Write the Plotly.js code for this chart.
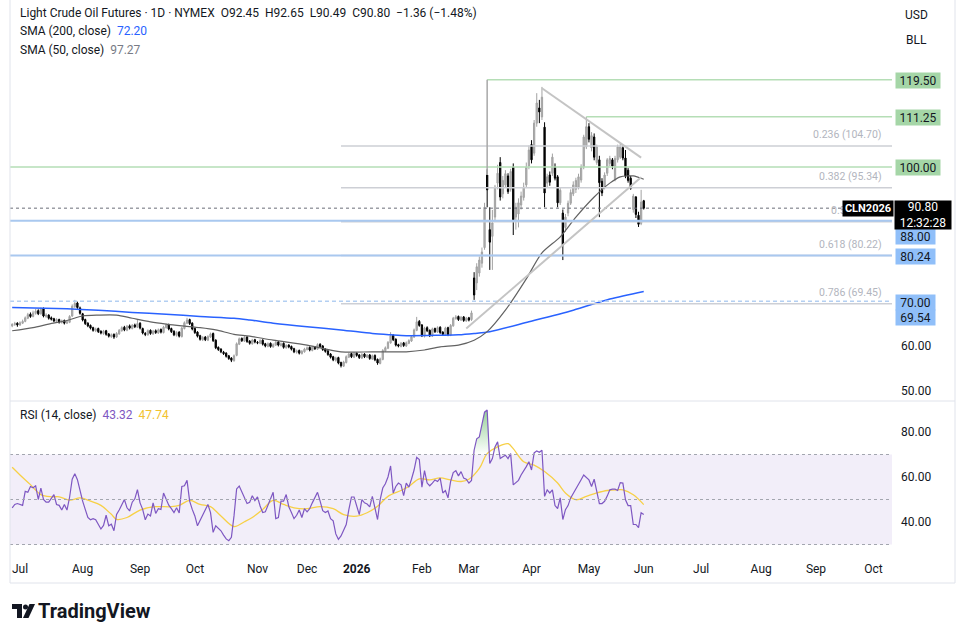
<!DOCTYPE html>
<html><head><meta charset="utf-8">
<script src="https://cdn.plot.ly/plotly-3.0.1.min.js"></script>
<style>html,body{margin:0;padding:0;background:#fff;}#chart{width:970px;height:642px;}</style>
</head><body><div id="chart"></div>
<script>
// ---------- DATA ----------
const startDate = '2025-06-26'; // first daily bar (trading days, weekends skipped)
const open = [
64.5,64.8,65.1,64.7,65.1,65.5,66.2,67.1,66.6,67.3,
67.9,67.2,68.4,66.6,66.9,66.3,66.1,65.5,65.9,65.3,
65.7,65.1,65.3,66.7,68.8,69.6,68.5,67.2,65.9,65.1,
64.6,64.1,63.4,63.9,63.3,62.8,63.4,62.7,62.1,62.6,
62.0,62.7,63.4,64.2,63.5,64.5,63.9,64.7,64.2,65.1,
63.9,62.8,62.5,63.5,62.7,63.4,62.9,63.7,63.0,64.1,
64.8,63.9,63.3,62.4,63.1,62.1,63.9,65.1,65.9,65.1,
63.9,63.1,62.3,61.4,62.0,61.3,62.0,62.8,61.3,59.7,
59.3,58.6,58.4,57.8,57.3,56.7,57.9,60.4,61.7,61.1,
62.0,61.1,60.5,61.4,60.8,60.6,61.3,60.5,59.9,60.6,
59.8,60.2,60.9,60.1,60.6,59.6,60.2,59.9,59.4,58.6,
59.0,58.3,58.7,59.2,59.7,59.0,59.8,59.3,60.4,60.0,
59.3,58.9,58.2,57.6,56.8,57.4,56.3,55.5,56.3,57.5,
58.3,57.5,58.4,58.0,57.3,58.2,57.5,58.0,57.1,57.9,
57.0,56.1,57.0,58.9,59.5,60.7,62.4,61.5,60.3,59.9,
60.7,60.0,60.6,61.1,62.0,63.5,65.5,64.7,62.2,64.1,
63.5,62.2,63.9,63.1,64.2,63.1,62.5,64.1,62.4,64.5,
66.1,66.6,65.8,66.5,65.6,66.3,65.9,75.2,74.1,76.3,
78.5,82.0,98.2,86.0,84.5,88.8,96.4,101.0,94.0,96.0,
98.0,95.0,100.0,88.8,89.5,91.5,93.2,96.0,100.2,105.0,
103.1,109.8,113.2,111.2,108.9,96.4,98.2,98.6,100.0,97.8,
92.0,89.7,86.5,89.7,91.9,94.0,95.0,95.5,97.1,100.0,
104.5,109.0,104.3,106.7,101.0,101.6,96.8,95.5,98.6,100.8,
101.6,97.2,101.6,102.2,104.3,102.0,99.3,97.5,90.5,93.3,
89.2,87.4,92.45];
const high = [
65.1,65.4,65.3,65.5,65.9,66.6,67.4,67.5,67.9,68.3,
68.2,68.6,68.6,67.3,67.1,66.6,66.3,66.2,66.1,65.9,
65.9,65.8,66.9,69.3,70.3,69.9,68.8,67.4,66.1,65.3,
64.8,64.3,64.1,64.1,63.5,63.6,63.6,62.9,62.8,62.8,
63.1,63.8,64.4,64.5,64.7,64.8,64.9,65.0,65.8,65.3,
64.1,63.1,63.7,63.7,63.6,63.7,63.9,63.9,64.5,65.0,
65.0,64.1,63.5,63.3,63.3,64.3,65.5,66.3,66.1,65.3,
64.1,63.3,62.5,62.2,62.2,62.4,63.0,63.0,61.5,59.9,
59.5,58.9,58.6,58.0,57.5,58.1,60.8,61.9,61.9,62.2,
62.2,61.3,61.6,61.6,61.1,61.5,61.5,60.7,60.8,60.8,
60.6,61.1,61.1,60.8,60.8,60.4,60.4,60.1,59.6,59.2,
59.2,59.1,59.6,59.9,59.9,60.0,60.0,60.6,60.6,60.2,
59.5,59.1,58.4,57.8,57.6,57.6,56.5,56.7,57.9,58.5,
58.5,58.6,58.6,58.2,58.4,58.4,58.2,58.2,58.1,58.1,
57.2,57.4,59.3,59.9,61.1,63.1,62.6,61.7,60.5,60.9,
60.9,61.0,61.5,62.4,63.9,66.5,65.8,64.9,64.3,64.4,
63.7,64.1,64.1,64.4,64.4,63.3,64.3,64.3,64.9,66.5,
66.9,66.8,66.7,66.7,66.5,66.5,67.9,76.5,78.5,80.0,
82.0,92.0,99.5,91.0,90.4,96.0,100.5,102.2,98.0,99.3,
98.6,99.6,100.8,92.0,93.0,94.5,96.5,101.0,104.8,106.0,
110.5,116.5,115.0,117.9,110.0,98.5,99.0,103.0,100.8,98.2,
95.5,90.5,89.5,92.5,95.0,96.8,97.6,98.5,100.6,107.2,
111.25,109.8,107.8,107.5,105.0,102.5,97.5,98.8,102.0,102.5,
102.0,102.5,105.0,105.2,104.8,103.8,99.8,98.0,94.0,93.5,
90.0,94.9,92.65];
const low = [
64.2,64.5,64.3,64.5,64.9,65.3,66.0,66.3,66.4,67.0,
66.9,67.0,66.4,66.3,65.9,65.7,65.3,65.2,65.0,65.0,
64.8,64.9,65.1,66.5,68.5,68.3,67.0,65.5,64.7,64.2,
63.7,63.2,63.1,62.9,62.6,62.5,62.3,61.9,61.8,61.6,
61.8,62.5,63.2,63.3,63.3,63.7,63.7,64.0,64.0,63.7,
62.6,62.2,62.3,62.5,62.5,62.7,62.7,62.8,62.8,63.9,
63.5,62.9,62.2,62.1,61.9,61.9,63.7,64.9,64.7,63.5,
62.7,61.9,61.2,61.1,61.1,61.1,61.8,60.9,59.3,58.9,
58.4,58.0,57.4,56.9,56.4,56.5,57.7,60.2,60.9,60.9,
60.7,60.3,60.3,60.6,60.4,60.4,60.1,59.7,59.7,59.6,
59.6,60.0,59.9,59.9,59.4,59.4,59.5,59.0,58.4,58.3,
58.1,58.1,58.5,59.0,58.8,58.8,59.1,59.1,59.6,58.9,
58.5,57.8,57.2,56.6,56.5,55.9,55.2,55.3,56.1,57.3,
57.3,57.3,57.6,57.1,57.1,57.3,57.3,56.9,56.9,56.6,
55.8,55.9,56.8,58.7,59.3,60.5,61.1,59.9,59.7,59.7,
59.8,59.8,60.4,60.9,61.8,63.3,64.3,62.0,61.9,63.1,
62.0,62.0,62.9,62.9,62.7,62.3,62.3,62.2,62.2,64.3,
65.9,65.6,65.6,65.4,65.4,65.5,65.6,70.3,72.5,75.5,
77.5,81.5,91.0,77.0,77.0,88.0,95.0,92.5,93.0,95.5,
94.0,94.5,84.8,86.0,86.5,90.5,92.5,95.5,99.5,100.8,
102.5,109.0,109.8,110.5,91.0,95.5,95.8,98.0,97.0,91.0,
91.5,79.2,85.5,89.0,91.5,93.5,94.2,95.0,96.5,99.5,
104.0,105.5,103.5,101.5,100.5,88.8,93.5,95.0,98.0,100.2,
99.5,96.8,101.0,101.8,101.5,97.5,96.5,94.9,89.8,88.6,
86.6,87.0,90.49];
const close = [
64.8,65.0,64.7,65.2,65.5,66.3,67.0,66.6,67.4,67.8,
67.2,68.2,66.7,66.9,66.2,66.0,65.6,65.9,65.3,65.6,
65.1,65.4,66.6,68.9,69.5,68.6,67.3,65.8,65.0,64.5,
64.0,63.5,63.8,63.2,62.9,63.3,62.6,62.2,62.5,62.0,
62.8,63.5,64.1,63.6,64.4,64.0,64.6,64.3,65.0,64.0,
62.9,62.6,63.4,62.8,63.3,63.0,63.6,63.1,64.2,64.7,
63.8,63.2,62.5,63.0,62.2,64.0,65.2,65.8,65.0,63.8,
63.0,62.2,61.5,61.9,61.4,62.1,62.7,61.2,59.6,59.2,
58.7,58.3,57.7,57.2,56.8,57.8,60.5,61.6,61.2,61.9,
61.0,60.6,61.3,60.9,60.7,61.2,60.4,60.0,60.5,59.9,
60.3,60.8,60.2,60.5,59.7,60.1,59.8,59.3,58.7,58.9,
58.4,58.8,59.3,59.6,59.1,59.7,59.4,60.3,59.9,59.2,
58.8,58.1,57.5,56.9,57.3,56.2,55.6,56.4,57.6,58.2,
57.6,58.3,57.9,57.4,58.1,57.6,57.9,57.2,57.8,56.9,
56.2,57.1,59.0,59.6,60.8,62.3,61.4,60.2,60.0,60.6,
60.1,60.7,61.2,62.1,63.6,65.4,64.6,62.3,64.0,63.4,
62.3,63.8,63.2,64.1,63.0,62.6,64.0,62.5,64.6,66.2,
66.5,65.9,66.4,65.7,66.2,65.8,67.4,71.4,77.7,79.2,
81.0,91.0,94.9,83.2,87.5,95.5,98.6,93.3,97.0,98.5,
94.5,99.0,88.2,91.0,92.0,93.5,95.5,100.0,103.8,101.6,
109.8,114.3,112.3,115.6,94.2,97.8,96.6,102.2,97.5,92.0,
94.8,82.6,88.8,91.9,94.3,96.0,97.0,97.8,100.0,106.7,
109.0,106.2,107.0,102.2,104.5,96.5,94.2,98.2,101.6,101.9,
100.2,101.9,104.5,104.5,102.0,98.0,97.0,95.2,93.5,89.4,
87.2,92.16,90.80];
// moving averages, read at sampled bars (bar number from startDate)
const sma50Bar = [0,8,14,21,27,33,40,46,53,59,65,72,78,85,91,100,113,126,138,151,158,164,171,177,182,189,197,203,210,216,223,229,233,236,238,242];
const sma50Val = [63.4,64.1,64.9,65.7,66.7,66.9,66.9,66.2,65.4,64.9,64.5,64.1,63.6,62.6,62.2,61.3,60.2,58.7,58.7,58.7,59.1,59.8,60.2,61.3,63.2,68.0,75.0,80.8,84.4,88.8,93.3,96.4,97.8,98.0,98.0,97.27];
const sma200Bar = [0,21,33,46,59,72,85,91,100,113,126,138,145,151,164,171,177,183,198,215,229,242];
const sma200Val = [68.6,68.3,68.0,67.5,67.1,66.6,66.2,65.8,65.1,64.3,63.6,62.8,62.5,62.3,62.4,62.5,62.8,63.2,65.4,68.0,70.5,72.2];
const rsi = [
46.3,47.8,48.2,47.9,47.4,53.6,53.2,55.8,55.2,56.1,
50.0,55.1,50.0,48.8,48.8,50.5,52.2,47.8,47.4,45.3,
47.8,45.3,51.0,59.0,61.4,58.8,53.5,49.3,45.6,42.0,
41.0,41.5,41.0,39.0,36.9,38.5,43.0,38.3,39.0,36.1,
43.4,45.3,47.5,50.0,46.3,44.9,48.8,50.3,54.4,48.5,
45.6,41.0,43.5,42.7,48.5,43.8,45.9,45.6,52.9,50.3,
47.5,45.9,44.2,46.3,44.0,55.8,56.1,58.5,49.3,45.6,
42.7,38.3,40.5,42.7,44.9,47.8,44.2,35.4,38.3,37.0,
36.1,34.2,32.5,31.7,33.2,42.7,54.7,56.0,53.6,50.7,
48.2,48.8,51.7,49.5,51.2,47.1,44.2,44.5,47.4,50.5,
53.2,41.5,42.0,49.3,49.3,52.2,46.8,44.2,41.5,43.0,
45.3,42.0,45.9,44.5,45.9,48.5,51.2,53.2,49.3,45.0,
44.2,44.9,41.5,40.5,34.7,32.3,33.8,36.0,38.9,45.5,
51.1,51.1,47.0,43.3,49.9,48.5,48.0,46.7,51.4,46.7,
41.1,49.9,55.1,57.0,60.0,64.9,52.9,55.8,57.3,56.5,
51.7,57.3,55.5,59.0,63.1,68.7,67.8,55.5,62.8,57.3,
56.1,57.3,58.7,58.0,59.5,52.9,54.0,50.7,58.0,62.0,
62.8,60.5,62.4,59.5,59.0,57.3,58.5,71.9,77.0,77.8,
83.6,88.8,89.8,66.0,68.2,73.4,75.6,68.2,69.0,69.7,
68.2,70.4,56.5,57.3,58.5,60.9,62.5,64.6,66.8,63.1,
70.7,71.6,71.0,71.9,51.4,54.3,52.9,54.3,47.3,46.0,
50.7,41.1,45.5,47.3,50.7,52.9,55.1,57.3,58.8,60.9,
60.0,58.7,55.8,59.0,53.6,48.2,48.2,49.2,51.5,54.3,
54.6,54.6,54.0,57.5,57.3,49.9,47.3,47.3,38.9,38.9,
37.5,44.1,43.3];
const rsiMaBar = [0,3,7,11,15,18,22,26,30,34,38,40,44,49,55,61,64,68,72,76,80,85,89,92,96,100,104,108,113,118,123,127,132,136,140,144,149,152,156,160,164,168,172,175,179,182,186,190,192,196,200,204,209,212,216,220,224,228,232,234,238,242];
const rsiMaVal = [64.3,60.9,56.6,52.2,51.2,51.2,49.7,50.7,49.3,47.4,43.4,41.2,42.0,45.3,46.8,46.8,47.4,49.6,47.8,46.8,42.7,38.0,40.1,42.0,45.6,49.6,47.8,46.3,45.9,46.8,45.9,43.3,42.6,44.1,47.0,51.4,54.0,55.8,59.2,58.7,59.6,58.7,58.0,59.0,63.8,70.4,73.4,74.8,72.6,66.8,65.3,62.4,57.3,52.9,49.9,51.4,52.9,54.0,54.3,54.3,52.1,47.74];
// time-axis labels
const tickDates = ['2025-07-01','2025-08-04','2025-09-03','2025-10-02','2025-11-05','2025-12-02','2025-12-29','2026-02-02','2026-02-26','2026-04-01','2026-05-01','2026-06-01','2026-07-01','2026-08-03','2026-09-01','2026-10-01'];
const tickText = ['Jul','Aug','Sep','Oct','Nov','Dec','<b>2026</b>','Feb','Mar','Apr','May','Jun','Jul','Aug','Sep','Oct'];
// drawn levels
const greenLevels = [119.50, 111.25, 100.00];
const blueLevels = [88.00, 80.24, 70.00];
const fibLevels = [104.70, 95.34, 87.79, 80.22, 69.45];
const fibLabels = ['0.236 (104.70)','0.382 (95.34)','0.5 (87.79)','0.618 (80.22)','0.786 (69.45)'];
const lastPrice = 90.80;

// ---------- BUILD ----------
const dates = (function(){const out=[];const d=new Date(startDate+'T00:00:00Z');while(out.length<360){const w=d.getUTCDay();if(w!==0&&w!==6)out.push(d.toISOString().slice(0,10));d.setUTCDate(d.getUTCDate()+1);}return out;})();
const N = close.length;
const xb = dates.slice(0,N);
const xRange = ['2025-06-25 04:00','2026-10-12 03:00'];
const L=10,R=892,T=0,B=556;
const PX = px => (px-L)/(R-L);
const PY = py => (B-py)/(B-T);
const FONT = 'Roboto, "Noto Sans", Arial, sans-serif';
const TXT = '#131722';

const traces = [];
traces.push({type:'candlestick', x:xb, open:open, high:high, low:low, close:close,
  xaxis:'x', yaxis:'y', whiskerwidth:0, hoverinfo:'skip', showlegend:false,
  increasing:{line:{color:'#a2a2a2',width:1}, fillcolor:'#b3b3b3'},
  decreasing:{line:{color:'#000000',width:1}, fillcolor:'#000000'}});
traces.push({type:'scatter', mode:'lines', x:sma200Bar.map(b=>dates[b]), y:sma200Val, xaxis:'x', yaxis:'y',
  line:{color:'#2962ff', width:1.5, shape:'spline', smoothing:0.8}, hoverinfo:'skip', showlegend:false});
traces.push({type:'scatter', mode:'lines', x:sma50Bar.map(b=>dates[b]), y:sma50Val, xaxis:'x', yaxis:'y',
  line:{color:'#626262', width:1.2, shape:'spline', smoothing:0.8}, hoverinfo:'skip', showlegend:false});
// RSI overbought fill
traces.push({type:'scatter', mode:'lines', x:xb, y:xb.map(()=>70), xaxis:'x2', yaxis:'y2',
  line:{width:0, color:'rgba(0,0,0,0)'}, hoverinfo:'skip', showlegend:false});
traces.push({type:'scatter', mode:'lines', x:xb, y:rsi.map(v=>Math.max(v,70)), xaxis:'x2', yaxis:'y2',
  line:{width:0, color:'rgba(0,0,0,0)'}, fill:'tonexty',
  fillgradient:{type:'vertical', start:70, stop:90, colorscale:[[0,'rgba(76,175,80,0)'],[1,'rgba(76,175,80,0.6)']]},
  hoverinfo:'skip', showlegend:false});
traces.push({type:'scatter', mode:'lines', x:rsiMaBar.map(b=>dates[b]), y:rsiMaVal, xaxis:'x2', yaxis:'y2',
  line:{color:'#f7d046', width:1.3, shape:'spline', smoothing:1}, hoverinfo:'skip', showlegend:false});
traces.push({type:'scatter', mode:'lines', x:xb, y:rsi, xaxis:'x2', yaxis:'y2',
  line:{color:'#7e57c2', width:1.2}, hoverinfo:'skip', showlegend:false});

const shapes = [];
// RSI band and guide lines
shapes.push({type:'rect', xref:'paper', yref:'y2', x0:0, x1:1, y0:30, y1:70, fillcolor:'rgba(126,87,194,0.1)', line:{width:0}, layer:'below'});
[30,50,70].forEach(v=>shapes.push({type:'line', xref:'paper', yref:'y2', x0:0, x1:1, y0:v, y1:v, line:{color:'#a3a6af', width:1, dash:'3px,3px'}}));
// fib retracement lines
fibLevels.forEach(v=>shapes.push({type:'line', xref:'x', yref:'y', x0:dates[126], x1:xRange[1], y0:v, y1:v, line:{color:'#cdcfd5', width:1.5}}));
// green resistance lines
shapes.push({type:'line', xref:'x', yref:'y', x0:dates[182], x1:xRange[1], y0:greenLevels[0], y1:greenLevels[0], line:{color:'#b5deb6', width:1.5}});
shapes.push({type:'line', xref:'x', yref:'y', x0:dates[220], x1:xRange[1], y0:greenLevels[1], y1:greenLevels[1], line:{color:'#b5deb6', width:1.5}});
shapes.push({type:'line', xref:'paper', yref:'y', x0:0, x1:1, y0:greenLevels[2], y1:greenLevels[2], line:{color:'#b5deb6', width:1.5}});
// blue support lines
shapes.push({type:'line', xref:'paper', yref:'y', x0:0, x1:1, y0:blueLevels[0], y1:blueLevels[0], line:{color:'#a9c8ef', width:2}});
shapes.push({type:'line', xref:'paper', yref:'y', x0:0, x1:1, y0:blueLevels[1], y1:blueLevels[1], line:{color:'#a9c8ef', width:2}});
shapes.push({type:'line', xref:'paper', yref:'y', x0:0, x1:1, y0:blueLevels[2], y1:blueLevels[2], line:{color:'#b3cff2', width:1.5, dash:'4px,3px'}});
// last price dotted line
shapes.push({type:'line', xref:'paper', yref:'y', x0:0, x1:0.945, y0:lastPrice, y1:lastPrice, line:{color:'#6b6e78', width:1, dash:'dot'}});
// spike line and triangle
shapes.push({type:'line', xref:'x', yref:'y', x0:dates[182], x1:dates[182], y0:98.2, y1:119.5, line:{color:'#a8a8a8', width:1.5}});
shapes.push({type:'line', xref:'x', yref:'y', x0:dates[203], x1:dates[241], y0:117.6, y1:102.1, line:{color:'#c4c4c4', width:2}});
shapes.push({type:'line', xref:'x', yref:'y', x0:dates[174], x1:dates[241], y0:63.9, y1:97.7, line:{color:'#c4c4c4', width:2}});
// frame and pane separator
const FR = PX(955), FB = PY(583);
shapes.push({type:'line', xref:'paper', yref:'paper', x0:0, x1:FR, y0:PY(401), y1:PY(401), line:{color:'#e0e3eb', width:1}});
shapes.push({type:'line', xref:'paper', yref:'paper', x0:0, x1:0, y0:FB, y1:1, line:{color:'#e0e3eb', width:1}});
shapes.push({type:'line', xref:'paper', yref:'paper', x0:FR, x1:FR, y0:FB, y1:1, line:{color:'#e0e3eb', width:1}});
shapes.push({type:'line', xref:'paper', yref:'paper', x0:0, x1:FR, y0:FB, y1:FB, line:{color:'#e0e3eb', width:1}});
// TradingView logo mark
shapes.push({type:'rect', xref:'paper', yref:'paper', x0:PX(12), x1:PX(22), y0:PY(609), y1:PY(604), fillcolor:TXT, line:{width:0}});
shapes.push({type:'rect', xref:'paper', yref:'paper', x0:PX(17), x1:PX(22), y0:PY(618), y1:PY(604), fillcolor:TXT, line:{width:0}});
shapes.push({type:'circle', xref:'paper', yref:'paper', x0:PX(23), x1:PX(28), y0:PY(609.5), y1:PY(604.5), fillcolor:TXT, line:{width:0}});
shapes.push({type:'path', xref:'paper', yref:'paper', path:`M ${PX(29.5)} ${PY(604)} L ${PX(35)} ${PY(604)} L ${PX(28.5)} ${PY(618)} L ${PX(23)} ${PY(618)} Z`, fillcolor:TXT, line:{width:0}});

const ann = [];
function t(text, px, py, xa, size, color, extra){ return Object.assign({xref:'paper', yref:'paper', x:PX(px), y:PY(py), text:text, showarrow:false, xanchor:xa||'left', yanchor:'middle', font:{family:FONT, size:size||12, color:color||TXT}}, extra||{}); }
const sp = '&nbsp;&nbsp;';
ann.push(t('Light Crude Oil Futures · 1D · NYMEX'+sp+'O92.45'+sp+'H92.65'+sp+'L90.49'+sp+'C90.80'+sp+'−1.36 (−1.48%)', 18, 13));
ann.push(t('SMA (200, close)'+sp+'<span style="color:#2962ff">72.20</span>', 18, 31));
ann.push(t('SMA (50, close)'+sp+'<span style="color:#787b86">97.27</span>', 18, 50));
ann.push(t('RSI (14, close)'+sp+'<span style="color:#7e57c2">43.32</span>'+sp+'<span style="color:#f2c230">47.74</span>', 18, 415));
ann.push(t('USD', 916, 15, 'center'));
ann.push(t('BLL', 916, 40, 'center'));
const fibY = [134.5, 176, 210, 244, 292];
fibLabels.forEach((s,i)=>ann.push(t(s, 884, fibY[i], 'right', 10.5, '#b2b5be')));
function box(text, py, bg, fg, w){ return t(text, 895, py, 'left', 12, fg||TXT, {bgcolor:bg, borderpad:1, width:w, height:13, align:'center'}); }
ann.push(box('119.50', 80.5, '#a5d6a7', TXT, 42));
ann.push(box('111.25', 117.5, '#a5d6a7', TXT, 42));
ann.push(box('100.00', 167.5, '#a5d6a7', TXT, 42));
ann.push(box('88.00', 236.5, '#90bff9', TXT, 37));
ann.push(box('80.24', 256, '#90bff9', TXT, 37));
ann.push(box('70.00', 302, '#90bff9', TXT, 37));
ann.push(box('69.54', 317.5, '#90bff9', TXT, 37));
ann.push(t('<b>CLN2026</b>', 842, 208, 'left', 11, '#ffffff', {bgcolor:'#000000', borderpad:1, width:48, height:13, align:'center'}));
ann.push(t('90.80<br>12:32:28', 894, 214.5, 'left', 12, '#ffffff', {bgcolor:'#000000', borderpad:1, width:54, height:26, align:'center'}));
ann.push(t('<b>TradingView</b>', 36, 611, 'left', 20, TXT));

const axCommon = {showgrid:false, zeroline:false, showline:false};
const layout = {
  width:970, height:642, margin:{l:L, r:970-R, t:T, b:642-B},
  paper_bgcolor:'#ffffff', plot_bgcolor:'#ffffff', showlegend:false,
  font:{family:FONT, color:TXT, size:12},
  xaxis:Object.assign({}, axCommon, {type:'date', domain:[0,1], anchor:'y', range:xRange, rangebreaks:[{bounds:['sat','mon']}], showticklabels:false, rangeslider:{visible:false}}),
  xaxis2:Object.assign({}, axCommon, {type:'date', domain:[0,1], anchor:'y2', matches:'x', range:xRange, rangebreaks:[{bounds:['sat','mon']}], tickmode:'array', tickvals:tickDates, ticktext:tickText, ticks:'', tickfont:{family:FONT, size:12, color:TXT}, ticklabelstandoff:4}),
  yaxis:Object.assign({}, axCommon, {domain:[PY(400),1], anchor:'x', side:'right', range:[47.93,137.32], tickmode:'array', tickvals:[50,60], ticktext:['50.00','60.00'], ticks:'', tickfont:{family:FONT, size:12, color:TXT}, ticklabelstandoff:8}),
  yaxis2:Object.assign({}, axCommon, {domain:[0,PY(402)], anchor:'x2', side:'right', range:[24.89,93.33], tickmode:'array', tickvals:[40,60,80], ticktext:['40.00','60.00','80.00'], ticks:'', tickfont:{family:FONT, size:12, color:TXT}, ticklabelstandoff:8}),
  shapes:shapes, annotations:ann
};
Plotly.newPlot('chart', traces, layout, {staticPlot:true, displayModeBar:false});
</script>
</body></html>
